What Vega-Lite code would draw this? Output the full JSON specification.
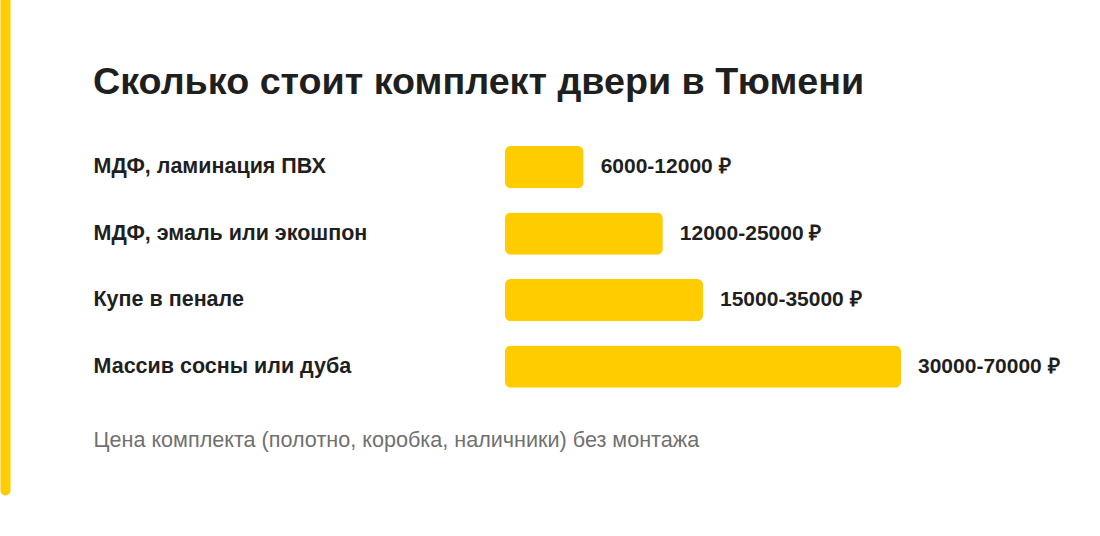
{
  "$schema": "https://vega.github.io/schema/vega-lite/v6.json",
  "autosize": {"type": "none"},
  "padding": {"left": 505, "top": 130, "right": 199, "bottom": 136},
  "width": 396,
  "height": 270,
  "background": "#ffffff",
  "title": {
    "text": "Сколько стоит комплект двери в Тюмени",
    "anchor": "start",
    "frame": "group",
    "orient": "top",
    "dx": -412,
    "offset": 28,
    "font": "Liberation Sans",
    "fontSize": 37.7,
    "fontWeight": "bold",
    "color": "#1f1f1f"
  },
  "data": {
    "values": [
      {"type": "МДФ, ламинация ПВХ", "bar": 13900, "label": "6000-12000 ₽"},
      {"type": "МДФ, эмаль или экошпон", "bar": 27900, "label": "12000-25000 ₽"},
      {"type": "Купе в пенале", "bar": 35000, "label": "15000-35000 ₽"},
      {"type": "Массив сосны или дуба", "bar": 70000, "label": "30000-70000 ₽"}
    ]
  },
  "encoding": {
    "y": {
      "field": "type",
      "type": "nominal",
      "sort": null,
      "scale": {
        "domain": [" ", "  ", "МДФ, ламинация ПВХ", "МДФ, эмаль или экошпон", "Купе в пенале", "Массив сосны или дуба", "   "],
        "range": [-135, 360],
        "paddingInner": 0.364,
        "paddingOuter": 0.404,
        "align": 0.335
      },
      "axis": {
        "title": null,
        "orient": "left",
        "offset": 500,
        "values": ["МДФ, ламинация ПВХ", "МДФ, эмаль или экошпон", "Купе в пенале", "Массив сосны или дуба"],
        "domain": true,
        "domainColor": "#FFCC00",
        "domainWidth": 10,
        "domainCap": "round",
        "ticks": false,
        "tickSize": 0,
        "grid": false,
        "labelAlign": "left",
        "labelBaseline": "middle",
        "labelPadding": -88,
        "labelLimit": 400,
        "labelFont": "Liberation Sans",
        "labelFontSize": 21.5,
        "labelFontWeight": "bold",
        "labelColor": "#1f1f1f"
      }
    },
    "x": {
      "field": "bar",
      "type": "quantitative",
      "scale": {"domain": [0, 70000], "nice": false},
      "axis": {
        "orient": "bottom",
        "domain": false,
        "ticks": false,
        "labels": false,
        "grid": false,
        "title": "Цена комплекта (полотно, коробка, наличники) без монтажа",
        "titleAnchor": "start",
        "titleAlign": "left",
        "titleBaseline": "alphabetic",
        "titleX": -412,
        "titleY": 46,
        "titleFont": "Liberation Sans",
        "titleFontSize": 21.6,
        "titleFontWeight": "normal",
        "titleColor": "#707070"
      }
    }
  },
  "layer": [
    {
      "mark": {"type": "bar", "color": "#FFCC00", "cornerRadius": 6}
    },
    {
      "mark": {
        "type": "text",
        "align": "left",
        "baseline": "middle",
        "dx": 17,
        "font": "Liberation Sans",
        "fontSize": 21,
        "fontWeight": "bold",
        "color": "#1f1f1f"
      },
      "encoding": {"text": {"field": "label"}}
    }
  ],
  "config": {"view": {"stroke": null}}
}
